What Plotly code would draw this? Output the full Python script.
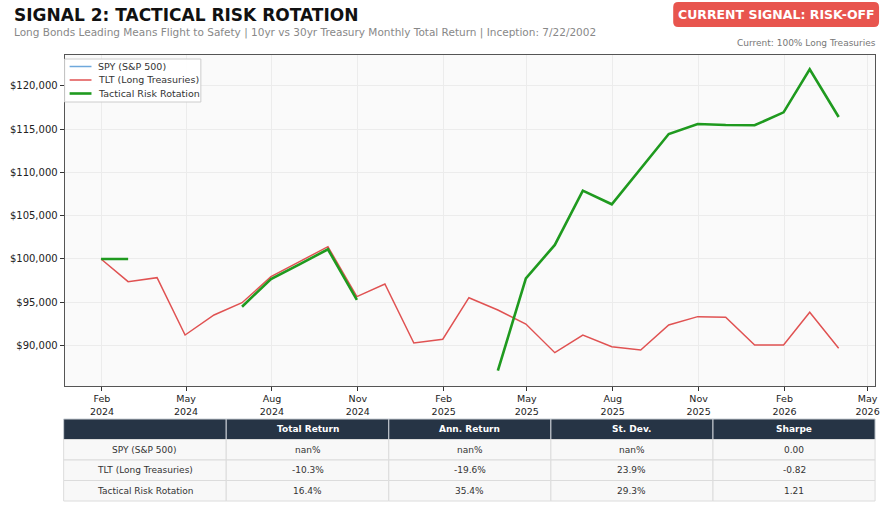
import plotly.graph_objects as go
import pandas as pd

# ---------------- data ----------------
dates = pd.date_range("2024-01-31", "2026-03-31", freq="ME")

spy_values = [None] * len(dates)

tlt_values = [100000, 97380, 97840, 91220, 93530, 94950, 97960, 99690, 101420,
              95650, 97110, 90300, 90730, 95530, 94110, 92490, 89180, 91220,
              89870, 89490, 92380, 93340, 93270, 90070, 90070, 93850, 89700]

tactical_values = [100000, 100000, None, None, None, 94490, 97690, 99400, 101120,
                   95270, None, None, None, None, 87100, 97770, 101620, 107890,
                   106320, 110450, 114430, 115590, 115470, 115440, 116940, 121910, 116400]

series_names = ["SPY (S&P 500)", "TLT (Long Treasuries)", "Tactical Risk Rotation"]
series_colors = ["#6fa8dc", "#e05252", "#1f9a1f"]
series_widths = [1.5, 1.5, 2.6]

table_header = ["", "Total Return", "Ann. Return", "St. Dev.", "Sharpe"]
table_total = ["nan%", "-10.3%", "16.4%"]
table_ann = ["nan%", "-19.6%", "35.4%"]
table_std = ["nan%", "23.9%", "29.3%"]
table_sharpe = ["0.00", "-0.82", "1.21"]

y_ticks = [90000, 95000, 100000, 105000, 110000, 115000, 120000]

# ---------------- layout helpers ----------------
W, H = 893, 509
def px(x):
    return x / W
def py(y):
    return 1 - y / H

FONT = "DejaVu Sans"

fig = go.Figure()
for name, vals, col, wd in zip(series_names, [spy_values, tlt_values, tactical_values],
                               series_colors, series_widths):
    fig.add_trace(go.Scatter(x=dates, y=vals, mode="lines", name=name,
                             line=dict(color=col, width=wd), connectgaps=False,
                             showlegend=False))

PL, PR, PT, PB = 65, 880, 55, 386

fig.update_layout(
    width=W, height=H,
    margin=dict(l=0, r=0, t=0, b=0),
    paper_bgcolor="white",
    plot_bgcolor="#fafafa",
    font=dict(family=FONT, color="#333333"),
    showlegend=False,
    xaxis=dict(domain=[px(PL), px(PR)],
               range=["2023-12-23", "2026-05-09"],
               type="date",
               tickvals=pd.date_range("2024-02-01", "2026-05-01", freq="3MS"),
               tickformat="%b<br>%Y",
               ticks="outside", ticklen=4, tickcolor="#333333",
               tickfont=dict(size=9.5, color="#222222"),
               showline=True, linecolor="#555555", linewidth=1, mirror=True,
               showgrid=True, gridcolor="#ececec", gridwidth=1, zeroline=False),
    yaxis=dict(domain=[py(PB), py(PT)],
               range=[85330, 123560],
               tickvals=y_ticks, tickformat="$,.0f",
               ticks="outside", ticklen=4, tickcolor="#333333",
               tickfont=dict(size=10, color="#222222"),
               showline=True, linecolor="#555555", linewidth=1, mirror=True,
               showgrid=True, gridcolor="#ececec", gridwidth=1, zeroline=False),
)

def rect(x0, y0, x1, y1, fill, line_col=None, lw=0):
    fig.add_shape(type="rect", xref="paper", yref="paper",
                  x0=px(x0), x1=px(x1), y0=py(y1), y1=py(y0),
                  fillcolor=fill, line=dict(color=line_col or fill, width=lw), layer="above")

def text(x, y, s, size, color, anchor="center", bold=False):
    fig.add_annotation(x=px(x), y=py(y), xref="paper", yref="paper",
                       text=("<b>%s</b>" % s) if bold else s, showarrow=False,
                       xanchor=anchor, yanchor="middle",
                       font=dict(size=size, color=color, family=FONT))

# ---------------- legend (manual, compact) ----------------
rect(65, 59, 202, 102, "rgba(255,255,255,0.92)", "#cccccc", 1)
for i, (name, col, wd) in enumerate(zip(series_names, series_colors, series_widths)):
    yy = 66.5 + i * 13.5
    fig.add_shape(type="line", xref="paper", yref="paper",
                  x0=px(70), x1=px(92), y0=py(yy), y1=py(yy),
                  line=dict(color=col, width=wd), layer="above")
    text(97, yy, name, 9.5, "#333333", anchor="left")

# ---------------- stats table (manual) ----------------
col_edges = [64, 227.5, 391, 554, 717, 880]
row_edges = [419, 439.5, 460, 480.5, 501]
columns = [series_names, table_total, table_ann, table_std, table_sharpe]

for c in range(5):
    x0, x1 = col_edges[c], col_edges[c + 1]
    rect(x0, row_edges[0], x1, row_edges[1], "#263445", "#c9ced4", 1)
    if table_header[c]:
        text((x0 + x1) / 2, (row_edges[0] + row_edges[1]) / 2, table_header[c], 9, "white", bold=True)
    for r in range(3):
        y0, y1 = row_edges[r + 1], row_edges[r + 2]
        rect(x0, y0, x1, y1, "#f8f8f8", "#dcdcdc", 1)
        text((x0 + x1) / 2, (y0 + y1) / 2, columns[c][r], 9, "#333333")

# ---------------- header ----------------
bx0, bx1, by0, by1, r = 677, 884, 2, 27, 5
path = (f"M {px(bx0 + r)} {py(by0)} L {px(bx1 - r)} {py(by0)} "
        f"Q {px(bx1)} {py(by0)} {px(bx1)} {py(by0 + r)} "
        f"L {px(bx1)} {py(by1 - r)} Q {px(bx1)} {py(by1)} {px(bx1 - r)} {py(by1)} "
        f"L {px(bx0 + r)} {py(by1)} Q {px(bx0)} {py(by1)} {px(bx0)} {py(by1 - r)} "
        f"L {px(bx0)} {py(by0 + r)} Q {px(bx0)} {py(by0)} {px(bx0 + r)} {py(by0)} Z")
fig.add_shape(type="path", path=path, xref="paper", yref="paper",
              fillcolor="#e8554e", line=dict(width=0), layer="above")
text((bx0 + bx1) / 2, (by0 + by1) / 2, "CURRENT SIGNAL: RISK-OFF", 12.5, "white", bold=True)

text(12, 15, "SIGNAL 2: TACTICAL RISK ROTATION", 17, "#111111", anchor="left", bold=True)
text(12, 33, "Long Bonds Leading Means Flight to Safety | 10yr vs 30yr Treasury Monthly Total Return | Inception: 7/22/2002",
     10.5, "#888888", anchor="left")
text(883, 43, "Current: 100% Long Treasuries", 9, "#777777", anchor="right")

fig.write_html("out.html")
